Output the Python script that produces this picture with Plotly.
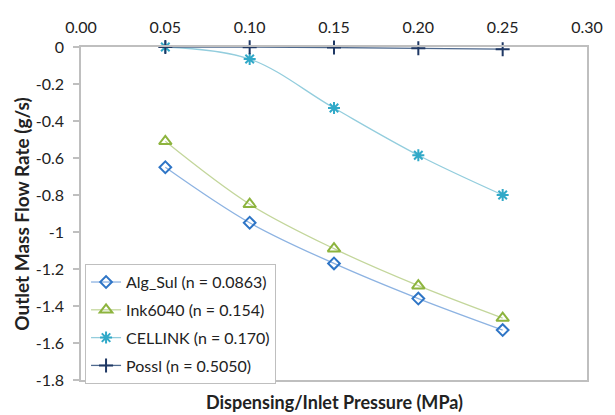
import plotly.graph_objects as go

pressure = [0.05, 0.10, 0.15, 0.20, 0.25]
alg_sul = [-0.65, -0.95, -1.17, -1.36, -1.53]
ink6040 = [-0.51, -0.85, -1.09, -1.29, -1.465]
cellink = [0.0, -0.065, -0.33, -0.585, -0.80]
possl = [0.0, -0.001, -0.003, -0.007, -0.012]

series_names = ["Alg_Sul (n = 0.0863)", "Ink6040 (n = 0.154)", "CELLINK (n = 0.170)", "Possl (n = 0.5050)"]

y_tickvals = [0, -0.2, -0.4, -0.6, -0.8, -1.0, -1.2, -1.4, -1.6, -1.8]
y_ticktext = ["0", "-0.2", "-0.4", "-0.6", "-0.8", "-1", "-1.2", "-1.4", "-1.6", "-1.8"]
x_tickvals = [0.0, 0.05, 0.10, 0.15, 0.20, 0.25, 0.30]

FONT = "Lato"
TXT = "#222222"

styles = [
    dict(line="#8DB3E2", marker="#2E75C6", symbol="diamond-open", size=9),
    dict(line="#C3D69B", marker="#8DB43E", symbol="triangle-up-open", size=11),
    dict(line="#93CDDD", marker="#31A9C8", symbol="asterisk-open", size=10),
    dict(line="#4F6A8F", marker="#1F3864", symbol="cross-thin-open", size=10),
]

fig = go.Figure()
for i, (name, ys, st) in enumerate(zip(series_names, [alg_sul, ink6040, cellink, possl], styles)):
    fig.add_trace(go.Scatter(
        x=pressure, y=ys, name=name, mode="lines+markers", legendgroup=f"g{i}",
        line=dict(color=st["line"], width=1.3, shape="spline"),
        marker=dict(symbol=st["symbol"], size=st["size"], color=st["marker"],
                    line=dict(color=st["marker"], width=2)),
        cliponaxis=False,
    ))

fig.update_layout(
    width=615, height=415,
    margin=dict(l=81, r=17, t=47, b=35),
    paper_bgcolor="white", plot_bgcolor="white",
    font=dict(family=FONT, size=16, color=TXT),
    showlegend=True,
    legend=dict(x=0.008, y=0.348, xanchor="left", yanchor="top",
                bordercolor="#BFBFBF", borderwidth=1, bgcolor="white",
                font=dict(family=FONT, size=16, color=TXT),
                tracegroupgap=4, itemwidth=30),
    xaxis=dict(range=[0, 0.3], side="top", tickvals=x_tickvals, tickformat=".2f",
               showgrid=False, zeroline=False, showline=True, linecolor="#BFBFBF",
               linewidth=1.5, mirror=True, ticks="", ticklabelstandoff=6,
               tickfont=dict(family=FONT, size=16, color=TXT)),
    yaxis=dict(range=[-1.8, 0], tickvals=y_tickvals, ticktext=y_ticktext,
               showgrid=False, zeroline=False, showline=True, linecolor="#BFBFBF",
               linewidth=1.5, mirror=True, ticks="outside", ticklen=6, tickcolor="#BFBFBF",
               tickwidth=1.5, ticklabelstandoff=6,
               tickfont=dict(family=FONT, size=16, color=TXT)),
    annotations=[
        dict(text="<b>Dispensing/Inlet Pressure (MPa)</b>", x=0.5, y=-0.066,
             xref="paper", yref="paper", xanchor="center", yanchor="middle",
             showarrow=False, font=dict(family=FONT, size=18, color=TXT)),
        dict(text="<b>Outlet Mass Flow Rate (g/s)</b>", x=-0.118, y=0.5, textangle=-90,
             xref="paper", yref="paper", xanchor="center", yanchor="middle",
             showarrow=False, font=dict(family=FONT, size=19, color=TXT)),
    ],
)

fig.write_html("out.html")
